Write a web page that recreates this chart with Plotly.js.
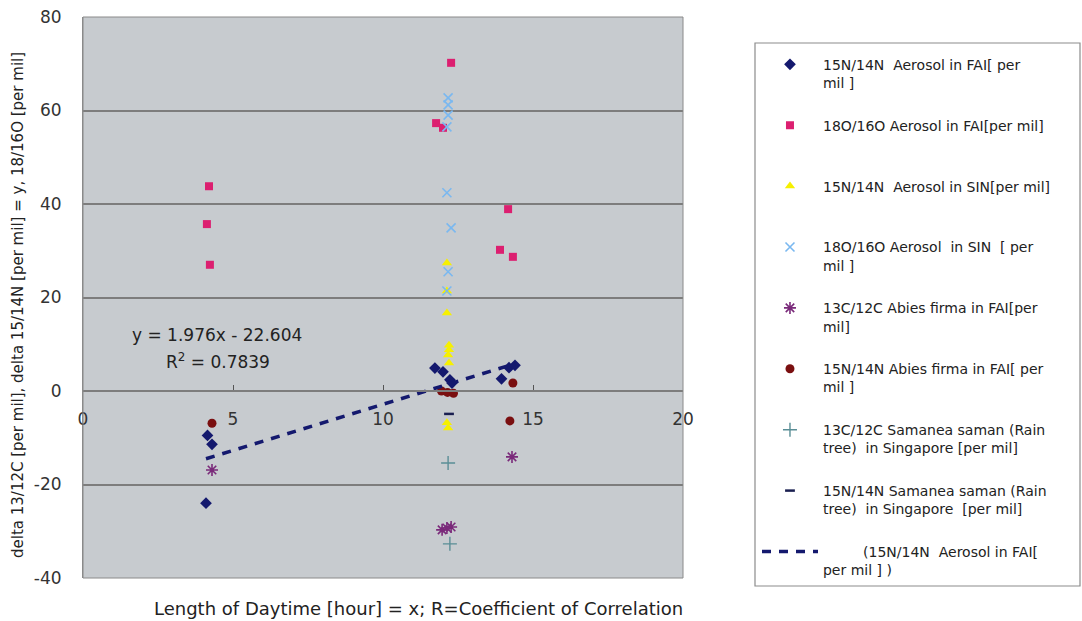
<!DOCTYPE html>
<html>
<head>
<meta charset="utf-8">
<script src="https://cdn.plot.ly/plotly-3.0.1.min.js"></script>
<style>html,body{margin:0;padding:0;background:#fff;}#chart{width:1082px;height:621px;}</style>
</head>
<body>
<div id="chart"></div>
<script>
// 15N/14N Aerosol in FAI
const aerosolFaiN_x = [4.15, 4.3, 4.1, 11.73, 12.0, 12.23, 12.3, 13.95, 14.2, 14.4];
const aerosolFaiN_y = [-9.5, -11.4, -24, 4.9, 4.1, 2.4, 1.7, 2.6, 5.0, 5.5];
// 18O/16O Aerosol in FAI
const aerosolFaiO_x = [12.27, 11.77, 12.0, 4.2, 4.13, 4.23, 14.17, 13.9, 14.33];
const aerosolFaiO_y = [70.2, 57.3, 56.3, 43.8, 35.7, 27.0, 38.9, 30.2, 28.7];
// 15N/14N Aerosol in SIN
const aerosolSinN_x = [12.13, 12.13, 12.13, 12.2, 12.2, 12.17, 12.2, 12.13, 12.17];
const aerosolSinN_y = [27.4, 21.4, 16.7, 9.8, 8.8, 7.7, 6.0, -6.8, -7.9];
// 18O/16O Aerosol in SIN
const aerosolSinO_x = [12.17, 12.17, 12.17, 12.13, 12.13, 12.27, 12.17, 12.13];
const aerosolSinO_y = [62.7, 61.2, 59.0, 56.5, 42.4, 34.9, 25.5, 21.4];
// 13C/12C Abies firma in FAI
const abiesC_x = [4.3, 14.3, 11.97, 12.27, 12.13];
const abiesC_y = [-16.9, -14.1, -29.7, -29.1, -29.3];
// 15N/14N Abies firma in FAI
const abiesN_x = [4.3, 11.95, 12.15, 12.35, 14.33, 14.23];
const abiesN_y = [-6.9, 0.0, -0.3, -0.5, 1.7, -6.4];
// 13C/12C Samanea saman in Singapore
const samaneaC_x = [12.17, 12.23];
const samaneaC_y = [-15.4, -32.7];
// 15N/14N Samanea saman in Singapore
const samaneaN_x = [12.2];
const samaneaN_y = [-4.9];
// Linear trend line of 15N/14N Aerosol in FAI (end points)
const trend_x = [4.1, 14.4];
const trend_y = [-14.5, 5.85];

const names = [
  "15N/14N&nbsp;&nbsp;Aerosol in FAI[ per<br>mil ]",
  "18O/16O Aerosol in FAI[per mil]<br>&nbsp;",
  "15N/14N&nbsp;&nbsp;Aerosol in SIN[per mil]<br>&nbsp;",
  "18O/16O Aerosol&nbsp;&nbsp;in SIN&nbsp;&nbsp;[ per<br>mil ]",
  "13C/12C Abies firma in FAI[per<br>mil]",
  "15N/14N Abies firma in FAI[ per<br>mil ]",
  "13C/12C Samanea saman (Rain<br>tree)&nbsp;&nbsp;in Singapore [per mil]",
  "15N/14N Samanea saman (Rain<br>tree)&nbsp;&nbsp;in Singapore&nbsp;&nbsp;[per mil]",
  "&nbsp;&nbsp;&nbsp;&nbsp;&nbsp;&nbsp;&nbsp;&nbsp;&nbsp;(15N/14N&nbsp;&nbsp;Aerosol in FAI[<br>per mil ] )"
];

function sc(x, y, i, marker) {
  return {x: x, y: y, type: 'scatter', mode: 'markers', name: names[i],
          legendgroup: 'g' + i, marker: marker, hoverinfo: 'x+y'};
}

const traces = [
  sc(aerosolFaiN_x, aerosolFaiN_y, 0, {symbol: 'diamond', size: 9, color: '#14196e'}),
  sc(aerosolFaiO_x, aerosolFaiO_y, 1, {symbol: 'square', size: 8, color: '#dc1f70'}),
  sc(aerosolSinN_x, aerosolSinN_y, 2, {symbol: 'triangle-up', size: 9, color: '#f6f000'}),
  sc(aerosolSinO_x, aerosolSinO_y, 3, {symbol: 'x-thin-open', size: 9, color: '#7ab8f0', line: {width: 1.6}}),
  sc(abiesC_x, abiesC_y, 4, {symbol: 'asterisk-open', size: 10, color: '#7a2a7a', line: {width: 1.6}}),
  sc(abiesN_x, abiesN_y, 5, {symbol: 'circle', size: 9, color: '#7a0f10'}),
  sc(samaneaC_x, samaneaC_y, 6, {symbol: 'cross-thin-open', size: 10, color: '#5a8e96', line: {width: 1.4}}),
  sc(samaneaN_x, samaneaN_y, 7, {symbol: 'line-ew-open', size: 7, color: '#1a1f50', line: {width: 2.5}}),
  {x: trend_x, y: trend_y, type: 'scatter', mode: 'lines', name: names[8], legendgroup: 'g8',
   line: {color: '#14196e', width: 3.5, dash: '9px,8px'}, hoverinfo: 'skip'}
];

const layout = {
  width: 1082, height: 621,
  margin: {l: 83, r: 399, t: 17, b: 43},
  paper_bgcolor: '#ffffff',
  plot_bgcolor: '#c7cbcf',
  font: {family: 'DejaVu Sans, sans-serif', color: '#222'},
  showlegend: true,
  legend: {
    x: 1.1233, xanchor: 'left', y: 0.9435, yanchor: 'top',
    bgcolor: 'rgba(0,0,0,0)', borderwidth: 0,
    font: {family: 'DejaVu Sans, sans-serif', size: 14, color: '#222'},
    itemwidth: 56, valign: 'top', traceorder: 'grouped', tracegroupgap: 21.5,
    itemclick: false, itemdoubleclick: false
  },
  xaxis: {
    range: [0, 20], tickvals: [0, 5, 10, 15, 20], ticktext: ['0', '5', '10', '15', '20'],
    anchor: 'free', position: 1/3,
    showgrid: false, zeroline: false,
    showline: true, linecolor: '#7d7d7d', linewidth: 1.5,
    ticks: 'inside', ticklen: 5, tickcolor: '#555', tickwidth: 1,
    ticklabelstandoff: 13,
    tickfont: {family: 'DejaVu Sans, sans-serif', size: 17, color: '#333'}
  },
  yaxis: {
    range: [-40, 80], tickvals: [-40, -20, 0, 20, 40, 60, 80],
    ticktext: ['-40', '-20', '0', '20', '40', '60', '80'],
    showgrid: true, gridcolor: '#7d7d7d', gridwidth: 1.5,
    zeroline: false, showline: true, linecolor: '#8a8a8a', linewidth: 1,
    ticks: '', ticklabelstandoff: 17,
    tickfont: {family: 'DejaVu Sans, sans-serif', size: 17, color: '#333'}
  },
  shapes: [
    {type: 'rect', xref: 'paper', yref: 'paper', x0: 0, x1: 1, y0: 0, y1: 1,
     line: {color: '#8a8a8a', width: 1}, fillcolor: 'rgba(0,0,0,0)', layer: 'above'},
    {type: 'rect', xref: 'paper', yref: 'paper',
     x0: (755 - 83) / 600, x1: (1080 - 83) / 600,
     y0: 1 - (586 - 17) / 561, y1: 1 - (43 - 17) / 561,
     line: {color: '#8c8c8c', width: 1.2}, fillcolor: '#ffffff', layer: 'below'}
  ],
  annotations: [
    {text: 'y = 1.976x - 22.604', x: 4.48, y: 12.0, xref: 'x', yref: 'y',
     showarrow: false, font: {size: 17, color: '#222'}},
    {text: 'R<sup>2</sup> = 0.7839', x: 4.5, y: 6.4, xref: 'x', yref: 'y',
     showarrow: false, font: {size: 17, color: '#222'}},
    {text: 'Length of Daytime [hour] = x; R=Coefficient of Correlation',
     x: (418 - 83) / 600, y: -(608 - 578) / 561, xref: 'paper', yref: 'paper',
     xanchor: 'center', yanchor: 'middle', showarrow: false,
     font: {size: 18, color: '#222'}},
    {text: 'delta 13/12C [per mil], delta 15/14N [per mil] = y, 18/16O [per mil]',
     x: (18 - 83) / 600, y: 1 - (305 - 17) / 561, xref: 'paper', yref: 'paper',
     xanchor: 'center', yanchor: 'middle', textangle: -90, showarrow: false,
     font: {size: 15, color: '#222'}}
  ]
};

Plotly.newPlot('chart', traces, layout, {displayModeBar: false});
</script>
</body>
</html>
